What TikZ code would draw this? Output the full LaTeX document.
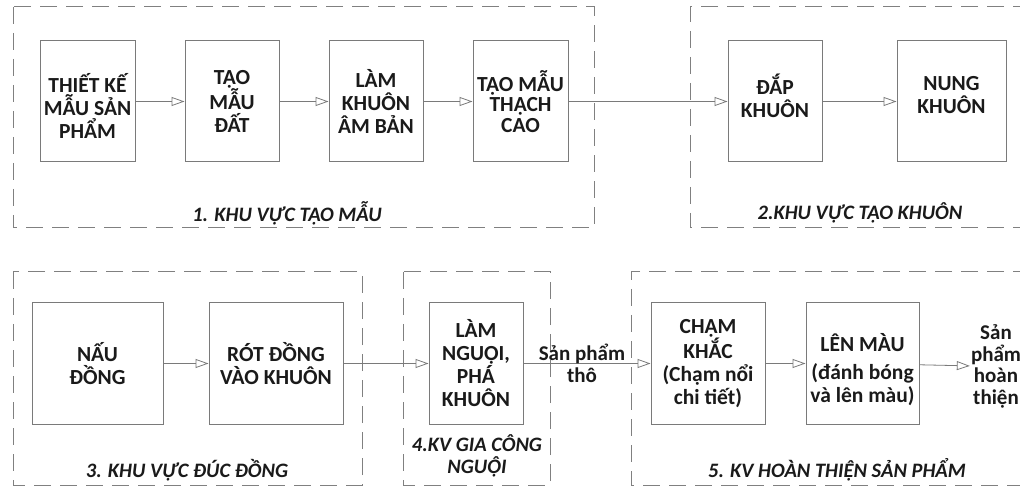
\documentclass[tikz,border=0pt]{standalone}
\usepackage{fontspec}
\setmainfont{Carlito}
\usetikzlibrary{arrows.meta}
\definecolor{linegray}{HTML}{7A7A7A}
\definecolor{dashgray}{HTML}{808080}
\definecolor{txt}{HTML}{1A1A1A}
\begin{document}
\begin{tikzpicture}[x=1pt,y=-1pt,
 boxfont/.style={font=\bfseries\fontsize{21.5}{23}\selectfont, align=center, text=txt},
 proc/.style={draw=linegray, line width=1pt, inner sep=0pt, boxfont, minimum height=121pt},
 zone/.style={draw=dashgray, line width=1pt, dash pattern=on 17pt off 9pt},
 flow/.style={draw=linegray, line width=0.8pt, -{Triangle[open, length=13pt, width=9pt]}},
 zlabel/.style={font=\bfseries\itshape\fontsize{20.5}{22}\selectfont, text=txt, align=center},
 freetext/.style={font=\bfseries\fontsize{21}{21.5}\selectfont, text=txt, align=center, inner sep=1pt}]
\useasboundingbox (0,0) rectangle (1020,486);

% zones
\draw[zone] (13,7) rectangle (594,228);
\draw[zone] (1030,7) -- (690,7) -- (690,228) -- (1030,228);
\draw[zone] (13,272) rectangle (362,485);
\draw[zone] (403,272) rectangle (550,485);
\draw[zone] (1030,272) -- (631,272) -- (631,485) -- (1030,485);

% top row
\node[proc, minimum width=95pt, label={[boxfont, yshift=-4pt]center:{THIẾT KẾ\\MẪU SẢN\\PHẨM}}] (b1) at (87.5,101.5) {};
\node[proc, minimum width=94pt] (b2) at (232,101.5) {TẠO\\MẪU\\ĐẤT};
\node[proc, minimum width=94pt] (b3) at (376,101.5) {LÀM\\KHUÔN\\ÂM BẢN};
\node[proc, minimum width=95pt, font=\bfseries\fontsize{21.5}{20.5}\selectfont] (b4) at (520.5,101.5) {TẠO MẪU\\THẠCH\\CAO};
\node[proc, minimum width=94pt, label={[boxfont, yshift=6pt]center:{ĐẮP\\KHUÔN}}] (b5) at (775,101.5) {};
\node[proc, minimum width=109pt, label={[boxfont, yshift=6pt]center:{NUNG\\KHUÔN}}] (b6) at (951.5,101.5) {};

\draw[flow] (b1) -- (b2);
\draw[flow] (b2) -- (b3);
\draw[flow] (b3) -- (b4);
\draw[flow] (b4) -- (b5);
\draw[flow] (b5) -- (b6);

% bottom row
\node[proc, minimum width=131pt] (c1) at (97.5,363.5) {NẤU\\ĐỒNG};
\node[proc, minimum width=134pt] (c2) at (276,363.5) {RÓT ĐỒNG\\VÀO KHUÔN};
\node[proc, minimum width=94pt] (c3) at (476,363.5) {LÀM\\NGUỘI,\\PHÁ\\KHUÔN};
\node[proc, minimum width=114pt] (c4) at (708,363.5) {CHẠM\\KHẮC\\(Chạm nổi\\chi tiết)};
\node[proc, minimum width=113pt, label={[boxfont, yshift=-6pt]center:{LÊN MÀU\\[5pt](đánh bóng\\và lên màu)}}] (c5) at (862.5,363.5) {};
\node[freetext] (out) at (996,366.5) {Sản\\phẩm\\hoàn\\thiện};

\draw[flow] (c1) -- (c2);
\draw[flow] (c2) -- (c3);
\draw[flow] (c3) -- node[freetext, pos=0.46] {Sản phẩm\\thô} (c4);
\draw[flow] (c4) -- (c5);
\draw[flow] (c5) -- (out);

% zone labels
\node[zlabel] (l1) at (287,213) {1. KHU VỰC TẠO MẪU};
\node[zlabel] (l2) at (860,213) {2.KHU VỰC TẠO KHUÔN};
\node[zlabel] (l3) at (187,470) {3. KHU VỰC ĐÚC ĐỒNG};
\node[zlabel] (l4) at (477,456) {4.KV GIA CÔNG\\NGUỘI};
\node[zlabel] (l5) at (837,470) {5. KV HOÀN THIỆN SẢN PHẨM};
\end{tikzpicture}
\end{document}
